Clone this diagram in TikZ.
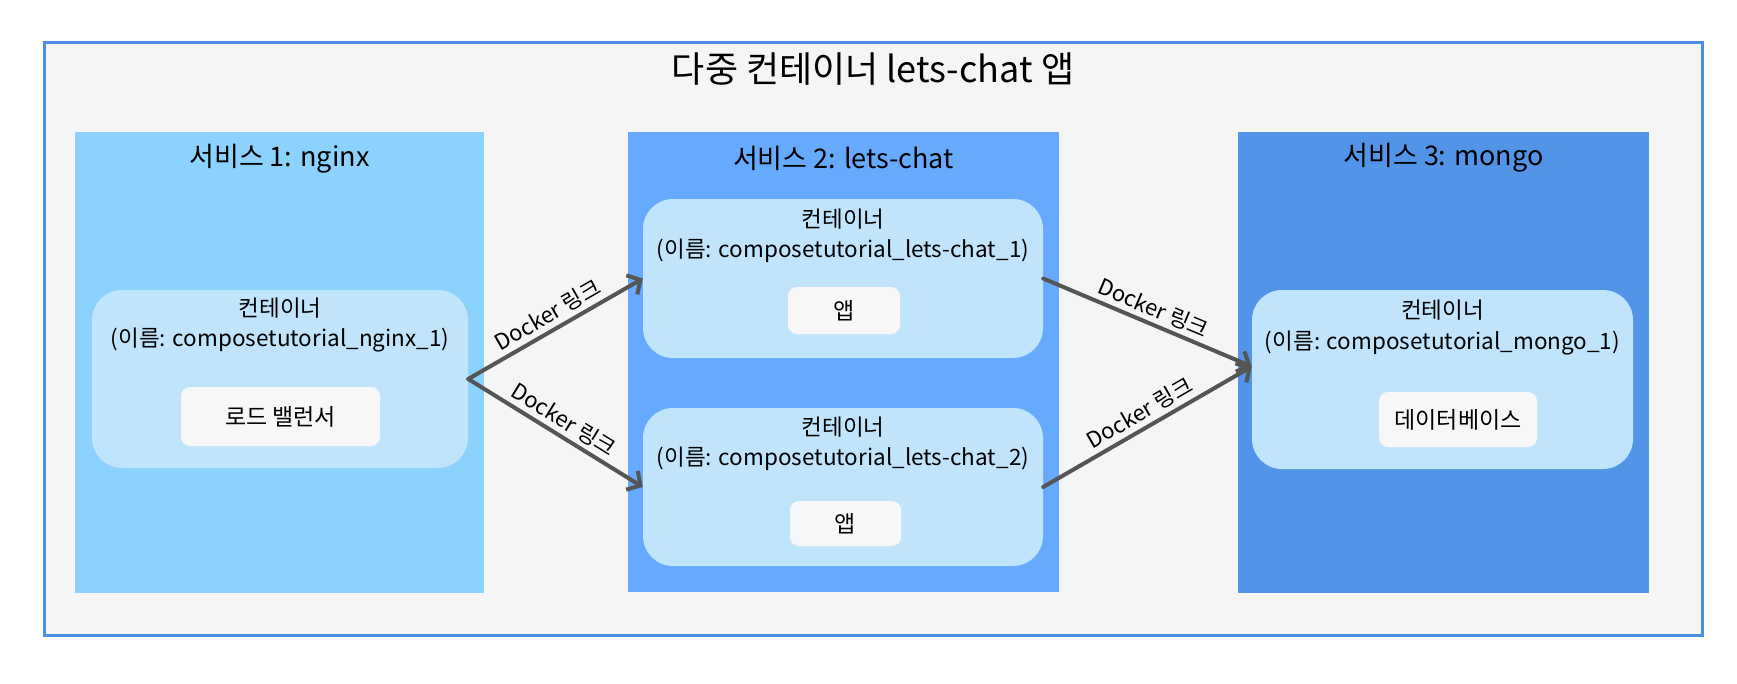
\documentclass[tikz,border=0pt]{standalone}
\usepackage{fontspec}
\setmainfont{Noto Sans CJK KR}
\usetikzlibrary{arrows.meta}
\definecolor{framec}{HTML}{4A90E2}
\definecolor{bgc}{HTML}{F5F5F5}
\definecolor{nginxc}{HTML}{8CD2FF}
\definecolor{letsc}{HTML}{66AAFF}
\definecolor{mongoc}{HTML}{5295E8}
\definecolor{contc}{HTML}{C1E4FD}
\definecolor{innerc}{HTML}{F7F7F7}
\definecolor{linkc}{HTML}{555555}
\tikzset{
  contbox/.style={fill=contc, draw=none, rounded corners=30pt, inner sep=0pt},
  innerbox/.style={fill=innerc, draw=none, rounded corners=9pt, inner sep=0pt, font=\fontsize{23}{27}\selectfont},
  ttl/.style={inner sep=0pt, font=\fontsize{36}{42}\selectfont},
  svcttl/.style={inner sep=0pt, font=\fontsize{27}{32}\selectfont},
  conttxt/.style={inner sep=0pt, font=\fontsize{22.5}{27}\selectfont},
  link/.style={draw=linkc, line width=4pt, line cap=round, line join=round,
    -{Straight Barb[length=10pt,width=22pt,line width=4pt]}},
  lbl/.style={inner sep=4pt, font=\fontsize{22}{26}\selectfont, sloped, above, midway}
}
\begin{document}
\begin{tikzpicture}[x=1pt,y=-1pt]
\useasboundingbox (0,0) rectangle (1737,683);
% outer frame
\node[fill=bgc, draw=framec, line width=3pt, inner sep=0pt, minimum width=1658pt, minimum height=593pt] (frame) at (873,338.5) {};
\node[ttl] (title) at (873,69) {다중 컨테이너 lets-chat 앱};
% service boxes
\node[fill=nginxc, inner sep=0pt, minimum width=409pt, minimum height=461pt] (s1) at (279.5,362.5) {};
\node[fill=letsc, inner sep=0pt, minimum width=431pt, minimum height=460pt] (s2) at (843.5,362) {};
\node[fill=mongoc, inner sep=0pt, minimum width=411pt, minimum height=461pt] (s3) at (1443.5,362.5) {};
\node[svcttl] (s1t) at (279.5,159) {서비스 1: nginx};
\node[svcttl] (s2t) at (843.5,158) {서비스 2: lets-chat};
\node[svcttl] (s3t) at (1443.5,158) {서비스 3: mongo};
% containers
\node[contbox, minimum width=376pt, minimum height=178pt] (nc) at (280,379) {};
\node[conttxt] (nct1) at (280,308) {컨테이너};
\node[conttxt] (nct2) at (280,340) {(이름: composetutorial\_nginx\_1)};
\node[innerbox, minimum width=199pt, minimum height=59pt] (lb) at (280.5,416.5) {로드 밸런서};

\node[contbox, minimum width=400pt, minimum height=159pt] (c1) at (843,278.5) {};
\node[conttxt] (c1t1) at (843,219) {컨테이너};
\node[conttxt] (c1t2) at (843,251) {(이름: composetutorial\_lets-chat\_1)};
\node[innerbox, minimum width=112pt, minimum height=47pt] (app1) at (844,310.5) {앱};

\node[contbox, minimum width=400pt, minimum height=158pt] (c2) at (843,487) {};
\node[conttxt] (c2t1) at (843,427) {컨테이너};
\node[conttxt] (c2t2) at (843,459) {(이름: composetutorial\_lets-chat\_2)};
\node[innerbox, minimum width=111pt, minimum height=45pt] (app2) at (845.5,523.5) {앱};

\node[contbox, minimum width=381pt, minimum height=179pt] (mc) at (1442.5,379.5) {};
\node[conttxt] (mct1) at (1442.5,310) {컨테이너};
\node[conttxt] (mct2) at (1442.5,343) {(이름: composetutorial\_mongo\_1)};
\node[innerbox, minimum width=158pt, minimum height=55pt] (db) at (1458,419.5) {데이터베이스};
% links
\draw[link] (nc.east) -- (c1.west) node[lbl] (l1) {Docker 링크};
\draw[link] (nc.east) -- (c2.west) node[lbl] (l2) {Docker 링크};
\draw[link] (c1.east) -- ([yshift=13pt]mc.west) node[lbl] (l3) {Docker 링크};
\draw[link] (c2.east) -- ([yshift=13pt]mc.west) node[lbl] (l4) {Docker 링크};
\end{tikzpicture}
\end{document}
